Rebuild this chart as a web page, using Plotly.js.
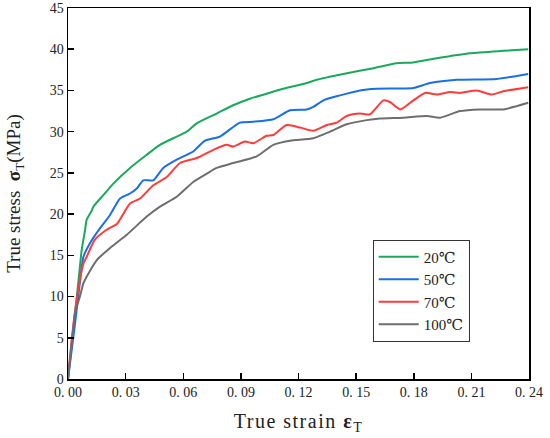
<!DOCTYPE html>
<html>
<head>
<meta charset="utf-8">
<script src="https://cdn.plot.ly/plotly-3.0.1.min.js"></script>
<style>html,body{margin:0;padding:0;background:#fff;}#chart{width:550px;height:438px;}
.xtitle{letter-spacing:1.5px;}
</style>
</head>
<body>
<div id="chart"></div>
<script>
// Data (strain, stress in MPa)
const seriesNames = ['20℃', '50℃', '70℃', '100℃'];
const strain20 = [0, 0.0036, 0.0062, 0.0071, 0.0089, 0.0097, 0.0123, 0.0132, 0.0184, 0.0236, 0.0323, 0.041, 0.0479, 0.0548, 0.0618, 0.067, 0.0774, 0.086, 0.0947, 0.1034, 0.112, 0.1243, 0.1295, 0.1433, 0.159, 0.171, 0.1798, 0.192, 0.2093, 0.2266, 0.2396];
const stress20 = [0, 7.8, 13.6, 15.6, 18.1, 19.3, 20.4, 20.9, 22.3, 23.7, 25.6, 27.2, 28.4, 29.2, 30.0, 31.0, 32.2, 33.2, 34.0, 34.6, 35.2, 35.9, 36.3, 37.0, 37.7, 38.3, 38.4, 38.9, 39.5, 39.8, 40.0];
const strain50 = [0, 0.0036, 0.0071, 0.008, 0.0115, 0.0167, 0.0219, 0.0271, 0.0323, 0.0358, 0.0392, 0.0444, 0.0496, 0.0566, 0.0652, 0.0713, 0.0791, 0.0895, 0.0965, 0.1069, 0.1156, 0.1243, 0.1277, 0.133, 0.1416, 0.152, 0.1607, 0.1798, 0.1885, 0.2024, 0.2232, 0.2396];
const stress50 = [0, 6.6, 13.5, 14.8, 16.5, 18.3, 19.9, 21.9, 22.5, 23.1, 24.1, 24.1, 25.6, 26.6, 27.6, 28.9, 29.4, 31.1, 31.2, 31.5, 32.6, 32.7, 33.0, 33.8, 34.4, 35.0, 35.2, 35.3, 35.9, 36.3, 36.4, 37.0];
const strain70 = [0, 0.0019, 0.0045, 0.008, 0.0097, 0.014, 0.0201, 0.0254, 0.0323, 0.0375, 0.0444, 0.0514, 0.0583, 0.067, 0.0757, 0.0826, 0.086, 0.0921, 0.0965, 0.1034, 0.1069, 0.1138, 0.1208, 0.1277, 0.1347, 0.1399, 0.1451, 0.152, 0.1572, 0.1642, 0.1676, 0.1729, 0.1798, 0.1859, 0.192, 0.1989, 0.2041, 0.2128, 0.2206, 0.2266, 0.2396];
const stress70 = [0, 4.7, 9.6, 14.0, 14.8, 16.9, 18.1, 18.8, 21.3, 21.9, 23.5, 24.5, 26.2, 26.8, 27.8, 28.4, 28.2, 28.8, 28.6, 29.5, 29.6, 30.8, 30.5, 30.1, 30.8, 31.1, 31.9, 32.2, 32.1, 33.8, 33.6, 32.7, 33.8, 34.7, 34.5, 34.8, 34.7, 35.0, 34.5, 34.9, 35.4];
const strain100 = [0, 0.0028, 0.0036, 0.0062, 0.008, 0.0097, 0.0149, 0.0219, 0.0306, 0.041, 0.0479, 0.0566, 0.0652, 0.0722, 0.0774, 0.086, 0.0982, 0.1069, 0.1156, 0.1277, 0.1364, 0.1451, 0.1555, 0.1624, 0.1746, 0.1868, 0.1937, 0.2041, 0.2145, 0.2266, 0.2396];
const stress100 = [0, 6.3, 8.0, 10.0, 11.6, 12.4, 14.4, 15.9, 17.5, 19.7, 20.9, 22.1, 23.9, 24.9, 25.6, 26.2, 27.0, 28.4, 28.9, 29.2, 30.0, 30.9, 31.4, 31.6, 31.7, 31.9, 31.7, 32.5, 32.7, 32.7, 33.5];
const colors = ['#1aa85c', '#1a6ee6', '#ff3b3b', '#6e6e6e'];
const xTickVals = [0, 0.03, 0.06, 0.09, 0.12, 0.15, 0.18, 0.21, 0.24];
const xTickText = ['0. 00', '0. 03', '0. 06', '0. 09', '0. 12', '0. 15', '0. 18', '0. 21', '0. 24'];
const yTickVals = [0, 5, 10, 15, 20, 25, 30, 35, 40, 45];

const xs = [strain20, strain50, strain70, strain100];
const ys = [stress20, stress50, stress70, stress100];
const traces = xs.map((x, i) => ({
  x: x, y: ys[i], type: 'scatter', mode: 'lines', name: seriesNames[i],
  line: {color: colors[i], width: 2, shape: 'spline', smoothing: 0.6}
}));

const fontFam = '"Liberation Serif", "DejaVu Serif", serif';
const layout = {
  width: 550, height: 438,
  margin: {l: 68, r: 21, t: 8, b: 59},
  paper_bgcolor: '#fff', plot_bgcolor: '#fff',
  font: {family: fontFam, color: '#222', size: 13},
  showlegend: true,
  legend: {
    x: 0.661, y: 0.376, xanchor: 'left', yanchor: 'top',
    bordercolor: '#333', borderwidth: 1, bgcolor: '#fff',
    font: {family: fontFam, size: 15, color: '#222'},
    itemwidth: 40, tracegroupgap: 0
  },
  xaxis: {
    range: [0, 0.24], tickvals: xTickVals, ticktext: xTickText,
    ticks: 'inside', ticklen: 6, tickwidth: 1.5, tickcolor: '#000',
    showline: true, linecolor: '#000', linewidth: 1.5, mirror: true,
    showgrid: false, zeroline: false,
    tickfont: {family: fontFam, size: 14, color: '#222'},
    title: {text: 'True strain <b>ε</b><sub>T</sub>', font: {family: fontFam, size: 20, color: '#222'}, standoff: 14}
  },
  yaxis: {
    range: [0, 45], tickvals: yTickVals,
    ticks: 'inside', ticklen: 6, tickwidth: 1.5, tickcolor: '#000',
    showline: true, linecolor: '#000', linewidth: 1.5, mirror: true,
    showgrid: false, zeroline: false,
    tickfont: {family: fontFam, size: 14, color: '#222'},
    title: {text: 'True stress  <b>σ</b><sub>T</sub>(MPa)', font: {family: fontFam, size: 19, color: '#222'}, standoff: 24}
  }
};
Plotly.newPlot('chart', traces, layout, {displayModeBar: false, staticPlot: true});
</script>
</body>
</html>
